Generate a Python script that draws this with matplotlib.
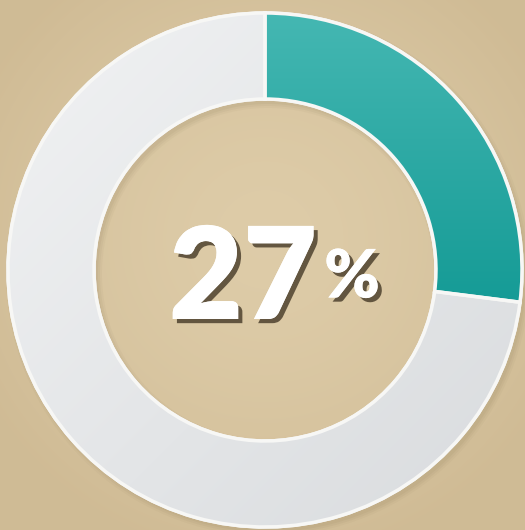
import numpy as np
import matplotlib
matplotlib.use("Agg")
import matplotlib.pyplot as plt
import matplotlib.patheffects as pe
from matplotlib.patches import Wedge

# Data
labels = ["Share", "Rest"]
values = [27, 73]
center_label = "27"
suffix = "%"
colors = ["#2ba9a6", "#e4e6e8"]

W, H = 525, 530
fig = plt.figure(figsize=(W / 100, H / 100), dpi=100)
ax = fig.add_axes([0, 0, 1, 1])
ax.set_xlim(0, W)
ax.set_ylim(0, H)
ax.axis("off")

# Background: tan with soft vignette
yy, xx = np.mgrid[0:H, 0:W]
d = np.sqrt(((xx - 265) / 320.0) ** 2 + ((yy - 290) / 320.0) ** 2)
base = np.array([0.870, 0.800, 0.660])
dark = np.array([0.815, 0.735, 0.585])
t = np.clip(d, 0, 1)[..., None] ** 1.5
img = base * (1 - t) + dark * t
ax.imshow(img, extent=(0, W, 0, H), origin="lower", zorder=0, aspect="auto")

cx, cy = 265, H - 270
R = 257
width = 86

# soft shadow of the ring (annulus only)
for k, a in enumerate([0.06, 0.05, 0.04]):
    sh = Wedge((cx + 3, cy - 4), R + 1 + 2 * k, 0, 360, width=width + 2 + 4 * k,
               color="#6b5a3a", alpha=a, zorder=1, lw=0)
    ax.add_patch(sh)

wedges, _ = ax.pie(values, colors=colors, startangle=90, counterclock=False,
                   radius=R, center=(cx, cy),
                   wedgeprops=dict(width=width, edgecolor="#f6f6f4", linewidth=2.5))
for w in wedges:
    w.set_zorder(2)

# gradient fills clipped to the wedges
gy = (yy - (cy - R)) / (2 * R)
gx = (xx - (cx - R)) / (2 * R)
teal_top = np.array([0.27, 0.72, 0.70])
teal_bot = np.array([0.07, 0.60, 0.58])
tt = np.clip((gy - 0.4) / 0.6, 0, 1)[..., None]
teal_img = teal_bot * (1 - tt) + teal_top * tt
im1 = ax.imshow(teal_img, extent=(0, W, 0, H), origin="lower", zorder=3, aspect="auto")
im1.set_clip_path(wedges[0])

gray_l = np.array([0.945, 0.950, 0.955])
gray_d = np.array([0.850, 0.860, 0.870])
s = np.clip(0.5 * (gx + (1 - gy)), 0, 1)[..., None]
gray_img = gray_l * (1 - s) + gray_d * s
im2 = ax.imshow(gray_img, extent=(0, W, 0, H), origin="lower", zorder=3, aspect="auto")
im2.set_clip_path(wedges[1])

# outlines on top
for w in wedges:
    o = Wedge(w.center, w.r, w.theta1, w.theta2, width=w.width, fill=False,
              edgecolor="#f7f7f5", lw=2.5, zorder=4)
    ax.add_patch(o)

ax.set_xlim(0, W)
ax.set_ylim(0, H)
ax.set_aspect("auto")

shadow = [pe.withSimplePatchShadow(offset=(3, -3), shadow_rgbFace="#3a2f1e", alpha=0.75), pe.Normal()]
ax.text(243, cy - 11, center_label, ha="center", va="center", fontsize=92,
        fontweight="heavy", family=["Lato", "DejaVu Sans"], color="white",
        path_effects=shadow, zorder=5)
ax.text(352, cy - 8, suffix, ha="center", va="center", fontsize=48,
        fontweight="heavy", family=["Lato", "DejaVu Sans"], color="white",
        path_effects=shadow, zorder=5)

fig.savefig("out.png", dpi=100)
